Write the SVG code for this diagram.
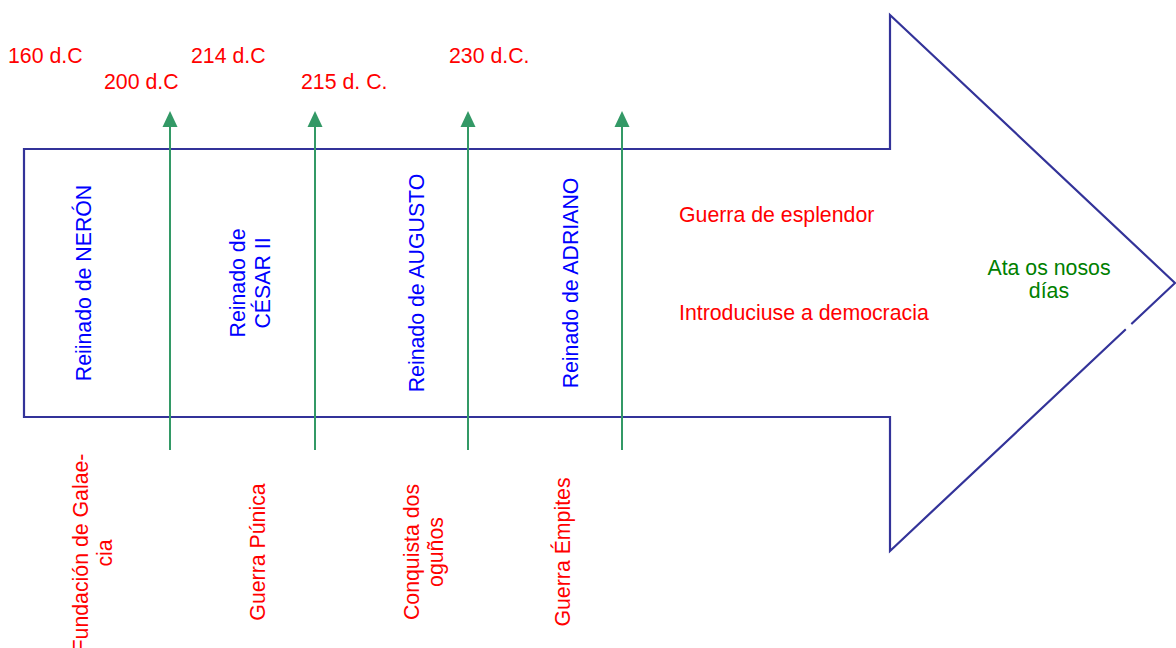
<svg xmlns="http://www.w3.org/2000/svg" width="1176" height="648" viewBox="0 0 1176 648">
<style>
  text { font-family: "Liberation Sans", Arial, sans-serif; font-size: 21.3px; }
  .red { fill: #ff0000; }
  .blue { fill: #0000ff; }
  .green { fill: #008000; }
  .outline { fill: #ffffff; stroke: #333399; stroke-width: 2.2; }
  .conn { stroke: #339966; stroke-width: 2; fill: none; }
  .head { fill: #339966; }
</style>
<rect width="1176" height="648" fill="#ffffff"/>
<g id="timeline-arrow">
  <path class="outline" d="M24,149 L890,149 L890,15 L1175,283 L890,551 L890,417 L24,417 Z"/>
  <line x1="1126" y1="329.5" x2="1131.5" y2="324.3" stroke="#ffffff" stroke-width="4"/>
</g>
<g id="connectors">
  <path class="conn" d="M170,450 L170,126"/>
  <polygon class="head" points="170,111 162.5,127 177.5,127"/>
  <path class="conn" d="M315,450 L315,126"/>
  <polygon class="head" points="315,111 307.5,127 322.5,127"/>
  <path class="conn" d="M468,450 L468,126"/>
  <polygon class="head" points="468,111 460.5,127 475.5,127"/>
  <path class="conn" d="M622,450 L622,126"/>
  <polygon class="head" points="622,111 614.5,127 629.5,127"/>
</g>
<g id="dates">
  <text class="red" x="8" y="63">160 d.C</text>
  <text class="red" x="104" y="89">200 d.C</text>
  <text class="red" x="191" y="63">214 d.C</text>
  <text class="red" x="301" y="89">215 d. C.</text>
  <text class="red" x="449" y="63">230 d.C.</text>
</g>
<g id="reign-neron">
  <text class="blue" text-anchor="middle" transform="translate(91 283) rotate(-90)">Reiinado de NERÓN</text>
</g>
<g id="reign-cesar">
  <text class="blue" text-anchor="middle" transform="translate(245 283) rotate(-90)">Reinado de</text>
  <text class="blue" text-anchor="middle" transform="translate(270 283) rotate(-90)">CÉSAR II</text>
</g>
<g id="reign-augusto">
  <text class="blue" text-anchor="middle" transform="translate(424 283) rotate(-90)">Reinado de AUGUSTO</text>
</g>
<g id="reign-adriano">
  <text class="blue" text-anchor="middle" transform="translate(578 283) rotate(-90)">Reinado de ADRIANO</text>
</g>
<g id="event-galaecia">
  <text class="red" text-anchor="middle" transform="translate(88 553) rotate(-90)">Fundación de Galae-</text>
  <text class="red" text-anchor="middle" transform="translate(112 553) rotate(-90)">cia</text>
</g>
<g id="event-punica">
  <text class="red" text-anchor="middle" transform="translate(265 552) rotate(-90)">Guerra Púnica</text>
</g>
<g id="event-ogunos">
  <text class="red" text-anchor="middle" transform="translate(419 552) rotate(-90)">Conquista dos</text>
  <text class="red" text-anchor="middle" transform="translate(443 552) rotate(-90)">oguños</text>
</g>
<g id="event-empites">
  <text class="red" text-anchor="middle" transform="translate(570 552) rotate(-90)">Guerra Émpites</text>
</g>
<g id="later-events">
  <text class="red" x="679" y="222">Guerra de esplendor</text>
  <text class="red" x="679" y="320">Introduciuse a democracia</text>
</g>
<g id="present">
  <text class="green" text-anchor="middle" x="1049" y="275">Ata os nosos</text>
  <text class="green" text-anchor="middle" x="1049" y="298">días</text>
</g>
</svg>
